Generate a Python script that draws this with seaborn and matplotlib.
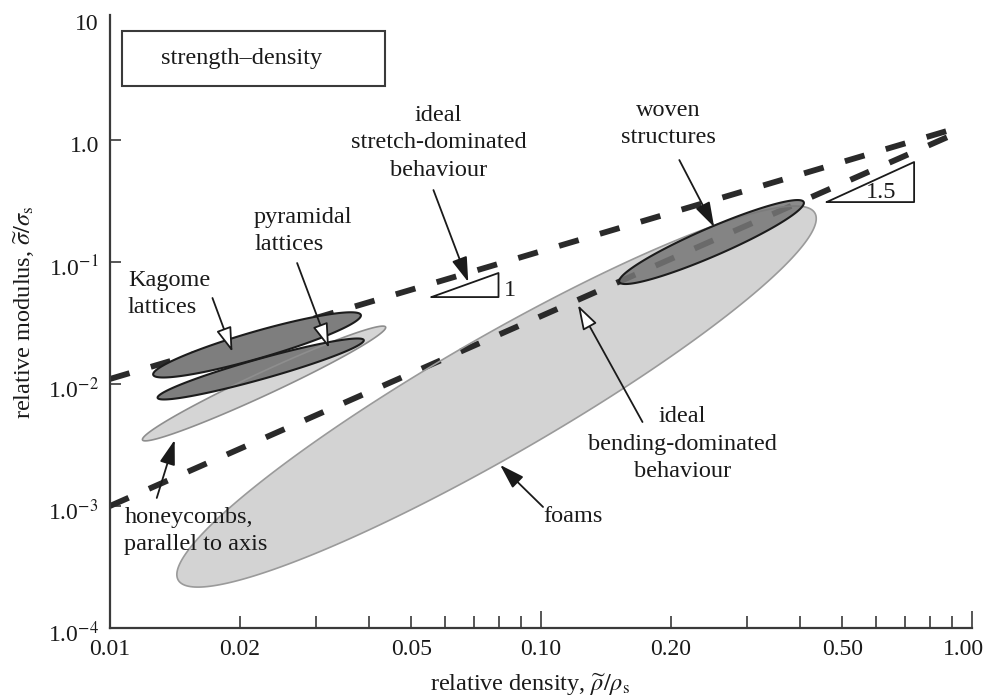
import numpy as np
import pandas as pd
import seaborn as sns
import matplotlib.pyplot as plt
from matplotlib.patches import Rectangle
from matplotlib.ticker import NullLocator
from matplotlib.transforms import ScaledTranslation

# ideal scaling lines (relative density, relative strength)
stretch_rho = [0.01, 0.92]
stretch_sig = [0.011, 1.25]
bend_rho = [0.01, 0.9]
bend_sig = [0.001, 1.1]

# material envelopes: lower tip, upper tip, width/length ratio
regions = ["foams", "honeycombs", "Kagome", "pyramidal", "woven"]
rho_lo = [0.0144, 0.0119, 0.0126, 0.0129, 0.152]
sig_lo = [2.47e-4, 3.48e-3, 0.0119, 7.7e-3, 0.0686]
rho_hi = [0.432, 0.0436, 0.0382, 0.0388, 0.407]
sig_hi = [0.252, 0.0293, 0.0368, 0.0229, 0.310]
aspect = [0.161, 0.085, 0.125, 0.095, 0.14]

# ticks
x_major = [0.01, 0.1, 1.0]
x_major_labels = ["0.01", "0.10", "1.00"]
x_minor = [0.02, 0.03, 0.04, 0.05, 0.06, 0.07, 0.08, 0.09,
           0.2, 0.3, 0.4, 0.5, 0.6, 0.7, 0.8, 0.9]
x_minor_labels = ["0.02", "", "", "0.05", "", "", "", "",
                  "0.20", "", "", "0.50", "", "", "", ""]
y_ticks = [1e-4, 1e-3, 1e-2, 1e-1, 1.0, 10.0]
y_tick_labels = ["1.0$^{-4}$", "1.0$^{-3}$", "1.0$^{-2}$", "1.0$^{-1}$", "1.0", "10"]

# annotations: text, position, alignment
labels = ["ideal\nstretch-dominated\nbehaviour", "woven\nstructures",
          "pyramidal\nlattices", "Kagome\nlattices",
          "honeycombs,\nparallel to axis", "foams",
          "ideal\nbending-dominated\nbehaviour"]
label_rho = [0.0578, 0.1975, 0.0216, 0.0110, 0.0108, 0.1186, 0.2128]
label_sig = [0.95, 1.353, 0.1795, 0.0547, 6.24e-4, 8.13e-4, 3.22e-3]
label_ha = ["center", "center", "left", "left", "left", "center", "center"]

# arrows: start -> tip, open (white) head or filled
arrow_from_rho = [0.0563, 0.2094, 0.02718, 0.01729, 0.01284, 0.1011, 0.1720]
arrow_from_sig = [0.389, 0.6855, 0.0981, 0.0507, 0.001164, 0.000982, 0.00488]
arrow_to_rho = [0.0678, 0.2522, 0.03222, 0.01924, 0.01413, 0.0804, 0.1218]
arrow_to_sig = [0.0686, 0.1936, 0.01972, 0.0183, 0.00348, 0.00217, 0.0444]
arrow_open = [False, False, True, True, False, False, True]

# slope triangles
tri_rho = [(0.0557, 0.0797), (0.460, 0.734)]
tri_sig = [(0.0516, 0.0813), (0.310, 0.660)]
tri_text = ["1", "1.5"]
tri_text_rho = [0.0848, 0.6164]
tri_text_sig = [0.0589, 0.3748]

FS = 17.5


def ellipse_xy(ax, p0, p1, ratio, n=300):
    """Ellipse between two tips, built in display space so it looks like the print."""
    trans = ax.transData
    a0, a1 = trans.transform([p0, p1])
    c = (a0 + a1) / 2
    d = (a1 - a0) / 2
    v = np.array([-d[1], d[0]]) * ratio
    t = np.linspace(0, 2 * np.pi, n)
    pts = c + np.outer(np.cos(t), d) + np.outer(np.sin(t), v)
    data = trans.inverted().transform(pts)
    return data[:, 0], data[:, 1]


sns.set_theme(style="ticks")
plt.rcParams["font.family"] = ["Liberation Serif", "DejaVu Serif"]
plt.rcParams["mathtext.fontset"] = "stix"
ink = "#1a1a1a"
axis_col = "#3a3a3a"

fig = plt.figure(figsize=(9.88, 6.99), dpi=100)
ax = fig.add_axes([0.1113, 0.1016, 0.8725, 0.8770])
ax.set_xscale("log")
ax.set_yscale("log")
ax.set_xlim(0.01, 1.0)
ax.set_ylim(1e-4, 10.6)

# envelopes
styles = {
    "foams": dict(fc="#d3d3d3", ec="#9a9a9a", lw=1.2, alpha=1.0, z=1),
    "honeycombs": dict(fc="#d5d5d5", ec="#8e8e8e", lw=1.2, alpha=1.0, z=1.2),
    "Kagome": dict(fc="#7e7e7e", ec="#1c1c1c", lw=1.5, alpha=1.0, z=3),
    "pyramidal": dict(fc="#7e7e7e", ec="#1c1c1c", lw=1.5, alpha=1.0, z=3.1),
    "woven": dict(fc="#767676", ec="#1c1c1c", lw=1.5, alpha=0.85, z=4),
}
for name, r0, s0, r1, s1, q in zip(regions, rho_lo, sig_lo, rho_hi, sig_hi, aspect):
    st = styles[name]
    ex, ey = ellipse_xy(ax, (r0, s0), (r1, s1), q)
    ax.fill(ex, ey, fc=st["fc"], ec="none", alpha=st["alpha"], zorder=st["z"])
    ax.fill(ex, ey, fill=False, ec=st["ec"], lw=st["lw"], zorder=3.5 if st["z"] < 4 else 4.1)

# ideal lines
lines = pd.DataFrame({
    "rho": stretch_rho + bend_rho,
    "sig": stretch_sig + bend_sig,
    "kind": ["stretch"] * 2 + ["bend"] * 2,
})
for kind in ["stretch", "bend"]:
    sub = lines[lines["kind"] == kind]
    sns.lineplot(data=sub, x="rho", y="sig", ax=ax, color="#2a2a2a", lw=4.2,
                 linestyle=(0, (3.5, 3.8)), zorder=2, sort=False)
ax.set_xlabel("")
ax.set_ylabel("")

# slope triangles
for (r0, r1), (s0, s1) in zip(tri_rho, tri_sig):
    ax.plot([r0, r1, r1, r0], [s0, s0, s1, s0], color=ink, lw=1.3, zorder=2.5)
for t, r, s in zip(tri_text, tri_text_rho, tri_text_sig):
    ax.text(r, s, t, fontsize=FS, color=ink, ha="center", va="center", zorder=6)

# labels and arrows
for t, r, s, ha in zip(labels, label_rho, label_sig, label_ha):
    ax.text(r, s, t, fontsize=FS, color=ink, ha=ha, va="center",
            multialignment=ha, linespacing=1.4, zorder=6)
for r0, s0, r1, s1, op in zip(arrow_from_rho, arrow_from_sig, arrow_to_rho,
                              arrow_to_sig, arrow_open):
    ax.annotate("", xy=(r1, s1), xytext=(r0, s0),
                arrowprops=dict(arrowstyle="-|>,head_length=0.95,head_width=0.3",
                                mutation_scale=16, lw=1.3, ec=ink,
                                fc="white" if op else ink,
                                shrinkA=0, shrinkB=0),
                zorder=7)

# title box
ax.add_patch(Rectangle((0.0139, 0.884), 0.305, 0.090, transform=ax.transAxes,
                       fill=False, ec=axis_col, lw=1.5, zorder=6))
ax.text(0.0202, 4.7, "strength\u2013density", fontsize=FS, color=ink,
        ha="center", va="center", zorder=6)

# axes styling
sns.despine(ax=ax)
for side in ["left", "bottom"]:
    ax.spines[side].set_color(axis_col)
    ax.spines[side].set_linewidth(1.6)

ax.set_xticks(x_major, x_major_labels)
ax.set_xticks(x_minor, x_minor_labels, minor=True)
ax.set_yticks(y_ticks, y_tick_labels)
ax.yaxis.set_minor_locator(NullLocator())
ax.tick_params(axis="x", which="major", direction="in", length=12, width=1.2,
               color=axis_col, labelsize=17, labelcolor=ink, pad=8)
ax.tick_params(axis="x", which="minor", direction="in", length=8.5, width=1.2,
               color=axis_col, labelsize=17, labelcolor=ink, pad=8)
ax.tick_params(axis="y", which="major", direction="in", length=8, width=1.2,
               color=axis_col, labelsize=17, labelcolor=ink, pad=8)
ax.yaxis.get_major_ticks()[-1].tick1line.set_visible(False)
for tk in ax.yaxis.get_major_ticks():
    lab = tk.label1
    lab.set_transform(lab.get_transform() + ScaledTranslation(0, -0.04, fig.dpi_scale_trans))
last = ax.xaxis.get_major_ticks()[-1].label1
last.set_transform(last.get_transform() + ScaledTranslation(-0.09, 0, fig.dpi_scale_trans))

ax.set_xlabel(r"relative density, $\widetilde{\rho}/\rho_{\rm s}$", fontsize=FS, color=ink)
ax.set_ylabel(r"relative modulus, $\widetilde{\sigma}/\sigma_{\rm s}$", fontsize=FS, color=ink)
ax.xaxis.set_label_coords(0.487, -0.072)
ax.yaxis.set_label_coords(-0.085, 0.514)

fig.savefig("out.png", dpi=100)
